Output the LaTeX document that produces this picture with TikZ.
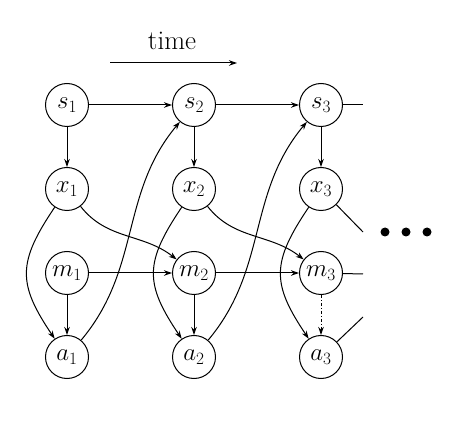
\documentclass[tikz,border=0pt]{standalone}
\usetikzlibrary{arrows.meta}
\begin{document}
\begin{tikzpicture}[x=1pt,y=1pt,
  var/.style={draw,circle,line width=1pt,minimum size=43pt,inner sep=0pt,font=\fontsize{27}{30}\selectfont},
  edge/.style={line width=1pt,-{Stealth[length=8pt,width=5.5pt]}},
  stub/.style={line width=1pt},
  dotmark/.style={circle,fill,inner sep=0pt,minimum size=9pt}]
\useasboundingbox (0,0) rectangle (474,-430);
% time arrow
\node[font=\fontsize{27}{30}\selectfont] (time) at (172,-41) {time};
\coordinate (t0) at (110,-63);
\coordinate (t1) at (237,-63);
\draw[edge] (t0) -- (t1);
% nodes
\foreach \i/\x in {1/67,2/194,3/321}{
  \node[var] (s\i) at (\x,-105) {$s_\i$};
  \node[var] (x\i) at (\x,-189) {$x_\i$};
  \node[var] (m\i) at (\x,-273) {$m_\i$};
  \node[var] (a\i) at (\x,-357) {$a_\i$};
}
% stubs
\coordinate (c1) at (363,-105);
\coordinate (c2) at (363,-232);
\coordinate (c3) at (363,-274);
\coordinate (c4) at (363,-317);
% horizontal chains
\draw[edge] (s1) -- (s2);
\draw[edge] (s2) -- (s3);
\draw[stub] (s3) -- (c1);
\draw[edge] (m1) -- (m2);
\draw[edge] (m2) -- (m3);
\draw[stub] (m3) -- (c3);
% verticals
\foreach \i in {1,2,3}{
  \draw[edge] (s\i) -- (x\i);
  \draw[edge] (x\i) to[out=236,in=124,looseness=1.3] (a\i);
}
\draw[edge] (m1) -- (a1);
\draw[edge] (m2) -- (a2);
\draw[edge,dash pattern=on 3pt off 2pt on 1pt off 2pt] (m3) -- (a3);
% cross-time
\draw[edge] (x1) to[out=-52,in=142] (m2);
\draw[edge] (x2) to[out=-52,in=142] (m3);
\draw[stub] (x3) -- (c2);
\draw[edge] (a1) to[out=50,in=230] (s2);
\draw[edge] (a2) to[out=50,in=230] (s3);
\draw[stub] (a3) -- (c4);
% dots
\node[dotmark] (d1) at (385,-232) {};
\node[dotmark] (d2) at (406,-232) {};
\node[dotmark] (d3) at (427,-232) {};
\end{tikzpicture}
\end{document}
